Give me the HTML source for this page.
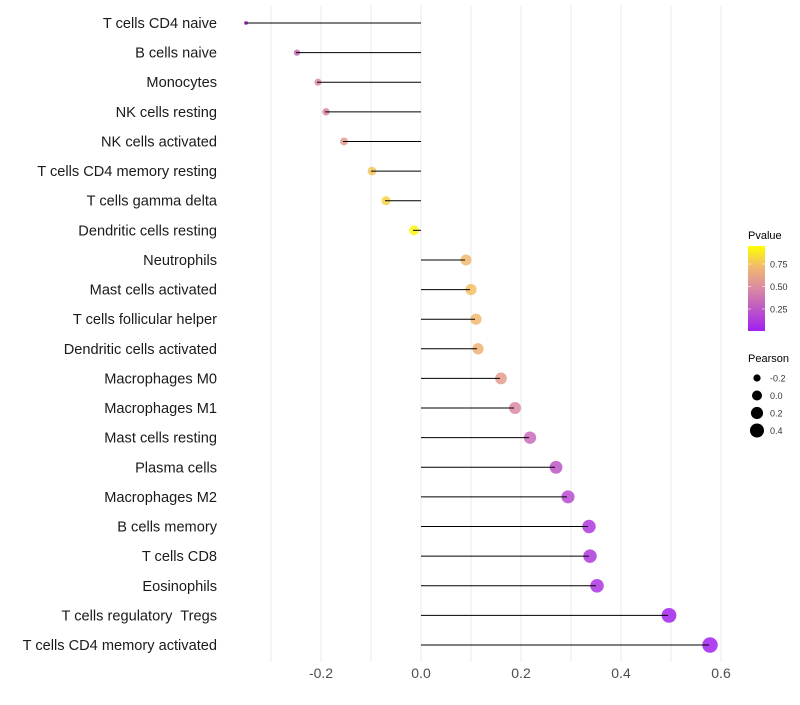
<!DOCTYPE html>
<html><head><meta charset="utf-8"><style>
body{margin:0;background:#fff;}
svg text{font-family:"Liberation Sans",sans-serif;white-space:pre;}
</style></head><body>
<svg id="chart" width="800" height="700"></svg>
<script>
const categories=["T cells CD4 naive","B cells naive","Monocytes","NK cells resting","NK cells activated","T cells CD4 memory resting","T cells gamma delta","Dendritic cells resting","Neutrophils","Mast cells activated","T cells follicular helper","Dendritic cells activated","Macrophages M0","Macrophages M1","Mast cells resting","Plasma cells","Macrophages M2","B cells memory","T cells CD8","Eosinophils","T cells regulatory  Tregs","T cells CD4 memory activated"];
const pearson=[-0.352,-0.25,-0.208,-0.192,-0.156,-0.1,-0.072,-0.016,0.088,0.098,0.108,0.112,0.158,0.186,0.216,0.268,0.292,0.334,0.336,0.35,0.494,0.576];
const pvalues=[0.1,0.35,0.5,0.48,0.6,0.8,0.85,0.97,0.75,0.78,0.75,0.72,0.6,0.5,0.35,0.25,0.2,0.12,0.12,0.1,0.02,0.01];
const xTicks=[-0.2,0,0.2,0.4,0.6];
const xTickLabels=["-0.2","0.0","0.2","0.4","0.6"];
const pLegendVals=[0.75,0.5,0.25];
const pLegendLabels=["0.75","0.50","0.25"];
const sizeLegendVals=[-0.2,0,0.2,0.4];
const sizeLegendLabels=["-0.2","0.0","0.2","0.4"];

const NS="http://www.w3.org/2000/svg";
const svg=document.getElementById('chart');
function xS(v){return 421+v*500;}
function yS(i){return 23+i*(622/21);}
function rS(v){return Math.sqrt(Math.max(0,4+60*(v+0.352)));}
function lerp(a,b,t){return Math.round(a+(b-a)*t);}
const stops=[[0,[160,32,240]],[0.5,[218,138,162]],[0.75,[240,184,112]],[1,[255,255,0]]];
function col(p){for(let i=0;i<stops.length-1;i++){const[a,ca]=stops[i],[b,cb]=stops[i+1];if(p<=b){const t=(p-a)/(b-a);return `rgb(${lerp(ca[0],cb[0],t)},${lerp(ca[1],cb[1],t)},${lerp(ca[2],cb[2],t)})`;}}return 'rgb(255,255,0)';}
function mk(tag,attrs,parent){const e=document.createElementNS(NS,tag);for(const k in attrs)e.setAttribute(k,attrs[k]);(parent||svg).appendChild(e);return e;}

for(let v=-0.3;v<=0.61;v+=0.1){
  const g=mk('line',{x1:xS(v),x2:xS(v),y1:5,y2:662,stroke:'#ebebeb','stroke-width':1});
  
  
}
xTicks.forEach((v,i)=>{
  const t=mk('text',{x:xS(v),y:678,'font-size':14,fill:'#4d4d4d','text-anchor':'middle'});
  t.textContent=xTickLabels[i];
  
  
});
categories.forEach((c,i)=>{
  const t=mk('text',{x:217,y:yS(i)+5,'font-size':14.6,fill:'#1a1a1a','text-anchor':'end'});
  t.textContent=c;
  
  
});
pearson.forEach((v,i)=>{
  const c=mk('circle',{cx:xS(v)+1,cy:yS(i),r:rS(v),fill:col(pvalues[i]),'fill-opacity':0.85});
  
  
});
pearson.forEach((v,i)=>{
  const l=mk('line',{x1:xS(0),x2:xS(v),y1:yS(i),y2:yS(i),stroke:'#000','stroke-width':1});
  
  
});
const lt=mk('text',{x:748,y:239,'font-size':11,fill:'#000'});lt.textContent='Pvalue';


const defs=mk('defs',{});
const lg=mk('linearGradient',{id:'pg',x1:0,y1:1,x2:0,y2:0},defs);
stops.forEach(s=>mk('stop',{offset:s[0],'stop-color':`rgb(${s[1].join(',')})`},lg));
const bar=mk('rect',{x:748,y:246,width:17,height:85,fill:'url(#pg)'});


function pY(p){return 331-(p-0.006)*(85/0.944);}
pLegendVals.forEach((p,i)=>{
  mk('line',{x1:748,x2:751,y1:pY(p),y2:pY(p),stroke:'#fff','stroke-opacity':0.6});
  mk('line',{x1:762,x2:765,y1:pY(p),y2:pY(p),stroke:'#fff','stroke-opacity':0.6});
  const t=mk('text',{x:770,y:pY(p)+3.5,'font-size':9,fill:'#333'});t.textContent=pLegendLabels[i];
  
  
});
const st=mk('text',{x:748,y:362,'font-size':11,fill:'#000'});st.textContent='Pearson';


sizeLegendVals.forEach((v,i)=>{
  const y=378+i*17.5;
  const c=mk('circle',{cx:757,cy:y,r:rS(v),fill:'#000'});
  
  
  const t=mk('text',{x:770,y:y+3.5,'font-size':9,fill:'#333'});t.textContent=sizeLegendLabels[i];
  
  
});
</script>
</body></html>
